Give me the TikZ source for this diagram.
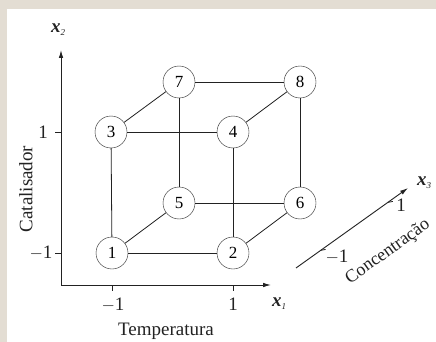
\documentclass[tikz,border=0pt]{standalone}
\usepackage{fontspec}
\setmainfont{Liberation Serif}
\usepackage{tikz}
\usetikzlibrary{arrows.meta,calc}
\definecolor{ink}{HTML}{222222}
\definecolor{frame1}{HTML}{E3DDD3}
\newcommand{\axvar}[1]{{\bfseries\itshape x}\raisebox{-3pt}{\fontsize{9}{9}\selectfont\itshape #1}}
\tikzset{
  pt/.style={draw=ink,circle,minimum size=32pt,inner sep=0pt,fill=white,font=\fontsize{17}{19}\selectfont},
  edge/.style={draw=ink,line width=0.8pt},
  axis/.style={draw=ink,line width=0.9pt,-{Latex[length=8pt,width=4.5pt]}},
  lbl/.style={text=ink,inner sep=0pt}
}

\begin{document}
\begin{tikzpicture}[x=1pt,y=-1pt,font=\fontsize{19}{21}\selectfont]
  % frame
  \fill[frame1] (0,0) rectangle (436,342);
  \fill[white] (7,9) rectangle (436,342);
  \useasboundingbox (0,0) rectangle (436,342);
  % axes
  \coordinate (o) at (61,285);
  \coordinate (xend) at (271,285);
  \coordinate (yend) at (61,50);
  \draw[axis] (o) -- (xend);
  \draw[axis] (o) -- (yend);
  \foreach \y in {132,253} \draw[ink,line width=0.8pt] (55,\y) -- (61,\y);
  \foreach \x in {112,233} \draw[ink,line width=0.8pt] (\x,285) -- (\x,291);
  \node[lbl] (ya) at (43,132) {1};
  \node[lbl] (yb) at (41,253) {$-$1};
  \node[lbl] (xa) at (113,305) {$-$1};
  \node[lbl] (xb) at (233,304) {1};
  \node[lbl] (x1) at (279,304) {\axvar{1}};
  \node[lbl] (x2) at (58,30) {\axvar{2}};
  \node[lbl,rotate=90] (cat) at (26,189) {Catalisador};
  \node[lbl] (temp) at (166,331) {Temperatura};
  % third axis
  \coordinate (zs) at (296,268);
  \coordinate (ze) at (408,188);
  \draw[axis] (zs) -- (ze);
  \draw[ink,line width=0.8pt] ($(zs)!0.22!(ze)$) -- ++(5,-1);
  \draw[ink,line width=0.8pt] ($(zs)!0.82!(ze)$) -- ++(5,-1);
  \node[lbl] (za) at (337,257) {$-$1};
  \node[lbl] (zb) at (401,205) {1};
  \node[lbl] (x3) at (424,183) {\axvar{3}};
  \node[lbl,rotate=35.5,font=\fontsize{18}{20}\selectfont] (conc) at (388,252) {Concentração};
  % cube
  \node[pt] (n1) at (112,253) {1};
  \node[pt] (n2) at (233,253) {2};
  \node[pt] (n3) at (111,132) {3};
  \node[pt] (n4) at (233,132) {4};
  \node[pt] (n5) at (179,203) {5};
  \node[pt] (n6) at (300,203) {6};
  \node[pt] (n7) at (179,82) {7};
  \node[pt] (n8) at (300,82) {8};
  \foreach \a/\b in {n1/n2,n1/n3,n1/n5,n2/n4,n2/n6,n3/n4,n3/n7,n4/n8,n5/n6,n5/n7,n6/n8,n7/n8}
    \draw[edge] (\a) -- (\b);
\end{tikzpicture}
\end{document}
